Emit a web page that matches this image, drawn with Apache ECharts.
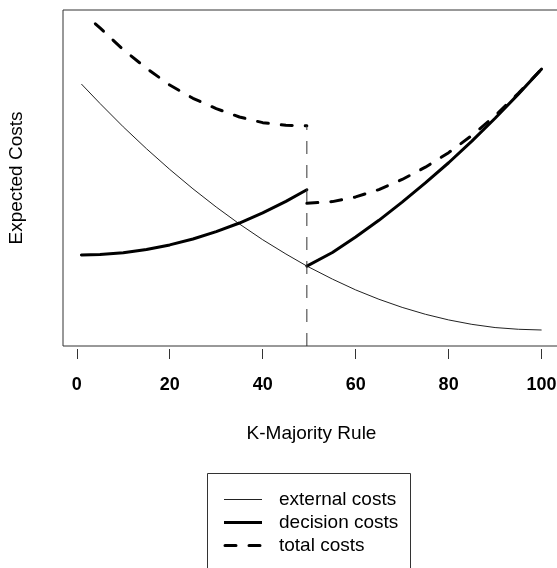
<!DOCTYPE html>
<html>
<head>
<meta charset="utf-8">
<script src="https://cdn.jsdelivr.net/npm/echarts@6/dist/echarts.min.js"></script>
<style>
  html, body { margin: 0; padding: 0; background: #fff; }
  #chart { width: 557px; height: 568px; }
</style>
</head>
<body>
<div id="chart"></div>
<script>
// Size of the majority (k) at which each curve is sampled
const kExternal = [1, 5, 10, 15, 20, 25, 30, 35, 40, 45, 49.5, 55, 60, 65, 70, 75, 80, 85, 90, 95, 100];
const externalCosts = [100.0, 92.1, 82.6, 73.7, 65.3, 57.4, 50.0, 43.1, 36.7, 30.9, 26.0, 20.7, 16.3, 12.5, 9.2, 6.4, 4.1, 2.3, 1.0, 0.3, 0.0];

// Decision costs jump down at the simple-majority threshold
const kDecisionLow = [1, 5, 10, 15, 20, 25, 30, 35, 40, 45, 49.5];
const decisionCostsLow = [30.5, 30.7, 31.4, 32.7, 34.6, 37.0, 40.0, 43.5, 47.6, 52.3, 57.0];
const kDecisionHigh = [49.5, 55, 60, 65, 70, 75, 80, 85, 90, 95, 100];
const decisionCostsHigh = [26.0, 31.5, 37.8, 44.6, 52.0, 59.8, 68.0, 76.8, 86.1, 95.9, 106.1];

// Total costs (external + decision)
const kTotalLow = [4, 5, 10, 15, 20, 25, 30, 35, 40, 45, 49.5];
const totalCostsLow = [124.5, 122.8, 114.0, 106.4, 99.6, 94.2, 90.0, 86.6, 84.3, 83.2, 83.0];
const kTotalHigh = [49.5, 55, 60, 65, 70, 75, 80, 85, 90, 95, 100];
const totalCostsHigh = [51.5, 52.2, 54.1, 57.1, 61.2, 66.2, 72.1, 79.1, 87.1, 96.2, 106.1];

// Threshold marker
const thresholdK = [49.5, 49.5];
const thresholdCosts = [-6.5, 83.0];

const xTicks = [0, 20, 40, 60, 80, 100];

const FONT = '"Liberation Sans", Arial, sans-serif';
const pairs = (xs, ys) => xs.map((x, i) => [x, ys[i]]);

const chart = echarts.init(document.getElementById('chart'), null, { renderer: 'canvas' });

const lineBase = { type: 'line', showSymbol: false, symbol: 'none', animation: false, silent: true };

chart.setOption({
  backgroundColor: '#ffffff',
  animation: false,
  grid: {
    left: 63, top: 10, width: 497, height: 336,
    outerBoundsMode: 'none',
    containLabel: false,
    show: true, borderColor: '#333', borderWidth: 1, backgroundColor: 'transparent'
  },
  xAxis: {
    type: 'value',
    position: 'bottom',
    min: -2.96, max: 103.96,
    name: 'K-Majority Rule',
    nameLocation: 'middle',
    nameGap: 78,
    nameTextStyle: { fontFamily: FONT, fontSize: 19, color: '#000' },
    axisLine: { show: false, onZero: false },
    // ticks stand a few pixels clear of the frame
    axisTick: {
      show: true, inside: false, length: 13, customValues: xTicks,
      lineStyle: { color: '#333', width: 1, type: [0, 3, 10, 10], cap: 'butt' }
    },
    axisLabel: {
      customValues: xTicks, margin: 30,
      fontFamily: FONT, fontSize: 18, fontWeight: 'bold', color: '#000'
    },
    splitLine: { show: false }
  },
  yAxis: {
    type: 'value',
    min: -6.5, max: 130.1,
    name: 'Expected Costs',
    nameLocation: 'middle',
    nameGap: 37,
    nameRotate: 90,
    nameTextStyle: { fontFamily: FONT, fontSize: 19, color: '#000' },
    axisLine: { show: false },
    axisTick: { show: false },
    axisLabel: { show: false },
    splitLine: { show: false }
  },
  series: [
    Object.assign({}, lineBase, {
      name: 'external costs',
      data: pairs(kExternal, externalCosts),
      lineStyle: { color: '#222', width: 1 }
    }),
    Object.assign({}, lineBase, {
      name: 'decision costs',
      data: pairs(kDecisionLow, decisionCostsLow),
      lineStyle: { color: '#000', width: 3, cap: 'round', join: 'round' }
    }),
    Object.assign({}, lineBase, {
      name: 'decision costs',
      data: pairs(kDecisionHigh, decisionCostsHigh),
      lineStyle: { color: '#000', width: 3, cap: 'round', join: 'round' }
    }),
    Object.assign({}, lineBase, {
      name: 'total costs',
      data: pairs(kTotalLow, totalCostsLow),
      lineStyle: { color: '#000', width: 3, type: [11, 13], cap: 'round', join: 'round' }
    }),
    Object.assign({}, lineBase, {
      name: 'total costs',
      data: pairs(kTotalHigh, totalCostsHigh),
      lineStyle: { color: '#000', width: 3, type: [11, 13], cap: 'round', join: 'round' }
    }),
    Object.assign({}, lineBase, {
      name: 'threshold',
      data: pairs(thresholdK, thresholdCosts),
      lineStyle: { color: '#333', width: 1, type: [13, 11] }
    })
  ],
  graphic: [
    {
      type: 'rect', silent: true,
      shape: { x: 207.5, y: 473.5, width: 203, height: 130 },
      style: { fill: '#fff', stroke: '#333', lineWidth: 1 }
    },
    {
      type: 'line', silent: true,
      shape: { x1: 224, y1: 499.5, x2: 262, y2: 499.5 },
      style: { stroke: '#222', lineWidth: 1 }
    },
    {
      type: 'line', silent: true,
      shape: { x1: 224, y1: 522.5, x2: 262, y2: 522.5 },
      style: { stroke: '#000', lineWidth: 3 }
    },
    {
      type: 'line', silent: true,
      shape: { x1: 225, y1: 545.5, x2: 262, y2: 545.5 },
      style: { stroke: '#000', lineWidth: 3, lineDash: [11, 13], lineCap: 'round' }
    },
    {
      type: 'text', silent: true, x: 279, y: 499.5,
      style: { text: 'external costs', font: '19px ' + FONT, fill: '#000', verticalAlign: 'middle' }
    },
    {
      type: 'text', silent: true, x: 279, y: 522.5,
      style: { text: 'decision costs', font: '19px ' + FONT, fill: '#000', verticalAlign: 'middle' }
    },
    {
      type: 'text', silent: true, x: 279, y: 545.5,
      style: { text: 'total costs', font: '19px ' + FONT, fill: '#000', verticalAlign: 'middle' }
    }
  ]
});
</script>
</body>
</html>
